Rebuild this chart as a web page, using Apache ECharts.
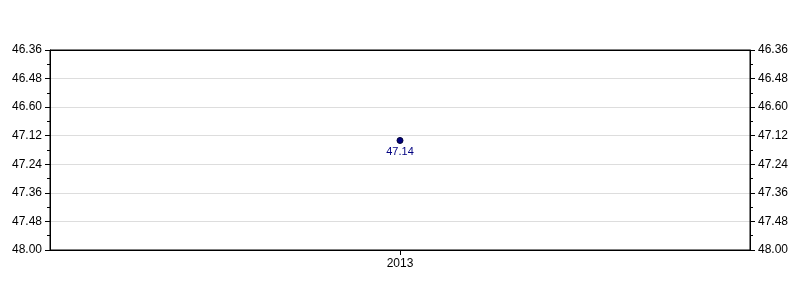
<!DOCTYPE html>
<html><head><meta charset="utf-8">
<script src="https://cdn.jsdelivr.net/npm/echarts@6/dist/echarts.min.js"></script>
<style>html,body{margin:0;padding:0;background:#fff}#c{width:800px;height:300px}</style>
</head><body><div id="c"></div>
<script>
const categories = ['2013'];
const timeValues = ['47.14'];  // minutes.seconds
const tickLabels = ['46.36','46.48','46.60','47.12','47.24','47.36','47.48','48.00'];
const axisMinLabel = '46.36';
const axisMaxLabel = '48.00';

function toSec(s){const p=s.split('.');return parseInt(p[0])*60+parseInt(p[1]);}
const seriesData = timeValues.map(toSec);
const yMin = toSec(axisMinLabel), yMax = toSec(axisMaxLabel);
const step = 12;

const chart = echarts.init(document.getElementById('c'), null, {renderer:'canvas'});
function yAxisCfg(pos, showSplit){
  return {
    type:'value', position:pos, inverse:true, min:yMin, max:yMax, interval:step,
    axisLine:{show:true, lineStyle:{color:'#000', width:1}},
    axisTick:{show:true, length:5, lineStyle:{color:'#000'}},
    minorTick:{show:true, splitNumber:2, length:3, lineStyle:{color:'#000'}},
    axisLabel:{color:'#000', fontSize:12, fontFamily:'Liberation Sans, Arial, sans-serif', margin:8,
      formatter:function(v){const i=Math.round((v-yMin)/step);return tickLabels[i]||'';}},
    splitLine:{show:showSplit, lineStyle:{color:'#dddddd', width:1}}
  };
}
chart.setOption({
  animation:false,
  grid:{left:50, right:50, top:50, bottom:50, show:true, borderColor:'#000', borderWidth:1, backgroundColor:'transparent', z:3},
  xAxis:[{type:'category', data:categories, boundaryGap:true,
    axisLine:{show:true, lineStyle:{color:'#000'}},
    axisTick:{show:true, alignWithLabel:true, length:5, lineStyle:{color:'#000'}},
    axisLabel:{color:'#000', fontSize:12, fontFamily:'Liberation Sans, Arial, sans-serif', margin:8},
    splitLine:{show:false}},
    {type:'category', data:categories, position:'top', axisLine:{show:true, lineStyle:{color:'#000'}},
     axisTick:{show:false}, axisLabel:{show:false}, splitLine:{show:false}}],
  yAxis:[yAxisCfg('left', true), yAxisCfg('right', false)],
  series:[{type:'line', xAxisIndex:0, yAxisIndex:0, data:seriesData, symbol:'circle', symbolSize:6,
    itemStyle:{color:'#000080', borderColor:'#000033', borderWidth:1},
    lineStyle:{color:'#000080'},
    label:{show:true, position:'bottom', distance:2, color:'#000080', fontSize:11,
      fontFamily:'Liberation Sans, Arial, sans-serif',
      formatter:function(p){return timeValues[p.dataIndex];}}
  }]
});
</script></body></html>
